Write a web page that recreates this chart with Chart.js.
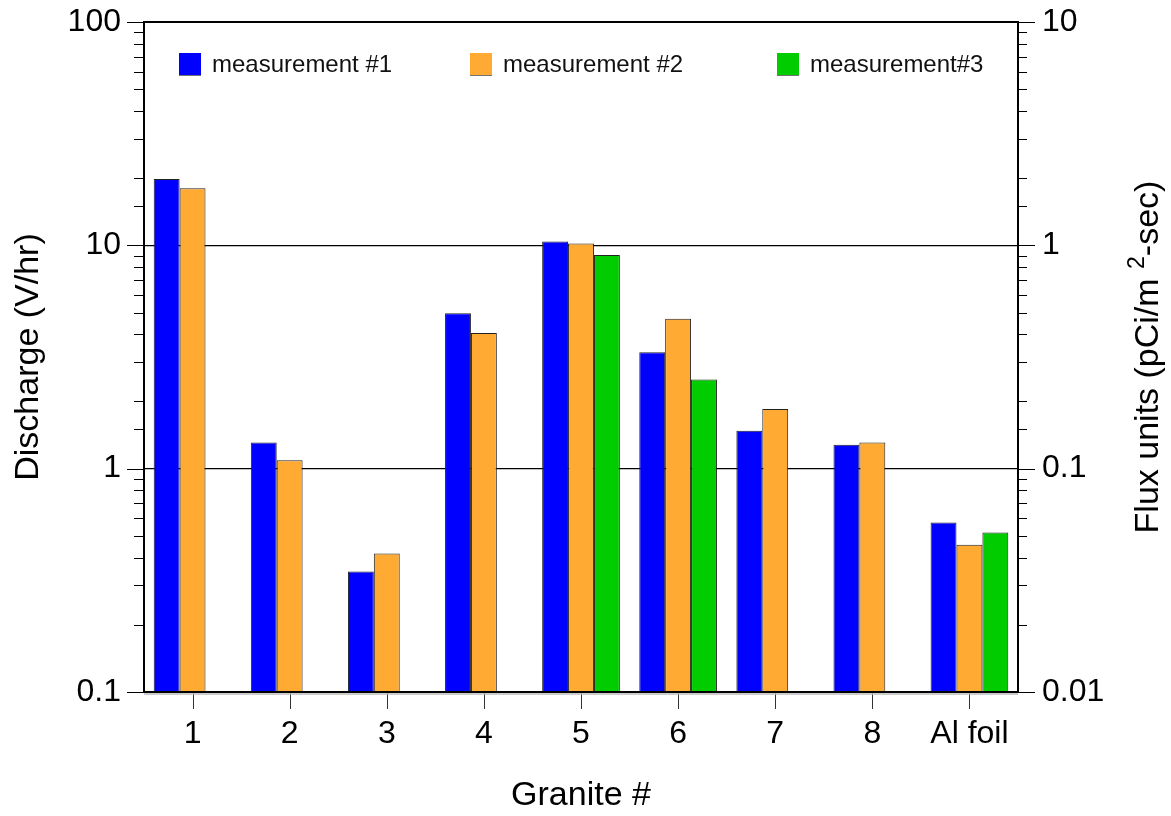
<!DOCTYPE html>
<html>
<head>
<meta charset="utf-8">
<title>Granite discharge</title>
<script src="https://cdn.jsdelivr.net/npm/chart.js@4.4.1/dist/chart.umd.min.js"></script>
<style>
  html, body { margin: 0; padding: 0; background: #fff; }
  #wrap { width: 1171px; height: 816px; }
</style>
</head>
<body>
<div id="wrap"><canvas id="c" width="1171" height="816"></canvas></div>
<script>
// Samples along the x axis
const categories = ['1', '2', '3', '4', '5', '6', '7', '8', 'Al foil'];

// Discharge rate (V/hr) for each measurement run; null = not measured
const measurement1 = [19.8, 1.31, 0.346, 4.97, 10.4, 3.32, 1.48, 1.28, 0.574];
const measurement2 = [18.0, 1.09, 0.417, 4.05, 10.2, 4.69, 1.85, 1.31, 0.456];
const measurement3 = [null, null, null, null, 9.05, 2.51, null, null, 0.518];

const seriesLabels = ['measurement #1', 'measurement #2', 'measurement#3'];
const seriesColors = ['#0000FF', '#FFAA33', '#00CC00'];

// Axis ranges (log decades)
const leftRange = [0.1, 100];
const rightRange = [0.01, 10];

const FONT = "'Liberation Sans', Arial, Helvetica, sans-serif";
const isDecade = v => Math.abs(Math.log10(v) - Math.round(Math.log10(v))) < 1e-6;

// Tick marks: long ones on decades, short ones in between, pointing outward
const tickMarks = {
  id: 'tickMarks',
  afterDraw(chart) {
    const ctx = chart.ctx;
    const area = chart.chartArea;
    ctx.save();
    ctx.strokeStyle = '#000';
    ctx.lineWidth = 1;
    const y = chart.scales.y, y2 = chart.scales.y2, x = chart.scales.x;
    y.ticks.forEach(t => {
      const p = Math.round(y.getPixelForValue(t.value)) + 0.5;
      const len = isDecade(t.value) ? 17 : 10;
      ctx.beginPath(); ctx.moveTo(area.left - len, p); ctx.lineTo(area.left, p); ctx.stroke();
    });
    y2.ticks.forEach(t => {
      const p = Math.round(y2.getPixelForValue(t.value)) + 0.5;
      const len = isDecade(t.value) ? 17 : 9;
      ctx.beginPath(); ctx.moveTo(area.right, p); ctx.lineTo(area.right + len, p); ctx.stroke();
    });
    ctx.strokeStyle = '#333';
    x.ticks.forEach((t, i) => {
      const p = Math.round(x.getPixelForTick(i)) + 0.5;
      ctx.beginPath(); ctx.moveTo(p, area.bottom); ctx.lineTo(p, area.bottom + 17); ctx.stroke();
    });

    // Plot frame
    ctx.strokeStyle = '#bbb';
    ctx.lineWidth = 1.5;
    ctx.beginPath(); ctx.moveTo(area.left, area.bottom + 2); ctx.lineTo(area.right, area.bottom + 2); ctx.stroke();
    ctx.strokeStyle = '#000';
    ctx.lineWidth = 2;
    ctx.beginPath();
    ctx.moveTo(area.left, area.top); ctx.lineTo(area.right, area.top);
    ctx.moveTo(area.left, area.bottom); ctx.lineTo(area.right, area.bottom);
    ctx.moveTo(area.left, area.top - 1); ctx.lineTo(area.left, area.bottom + 1);
    ctx.moveTo(area.right, area.top - 1); ctx.lineTo(area.right, area.bottom + 1);
    ctx.stroke();
    ctx.restore();
  }
};

// Legend inside the plot, one entry per dataset
const insideLegend = {
  id: 'insideLegend',
  afterDraw(chart) {
    const ctx = chart.ctx;
    const starts = [179, 470, 777];
    ctx.save();
    ctx.font = `24px ${FONT}`;
    ctx.textBaseline = 'middle';
    ctx.fillStyle = '#000';
    chart.data.datasets.forEach((ds, i) => {
      const bx = starts[i], by = 53;
      ctx.fillStyle = ds.backgroundColor;
      ctx.fillRect(bx, by, 22, 22);
      ctx.strokeStyle = 'rgba(0,0,0,0.55)';
      ctx.lineWidth = 1;
      ctx.beginPath(); ctx.moveTo(bx, by + 22.5); ctx.lineTo(bx + 22, by + 22.5); ctx.stroke();
      ctx.fillStyle = '#111';
      ctx.fillText(ds.label, bx + 33, by + 12);
    });
    ctx.restore();
  }
};

// Right-hand axis title with superscript, reading bottom to top
const rightTitle = {
  id: 'rightTitle',
  afterDraw(chart) {
    const ctx = chart.ctx;
    const area = chart.chartArea;
    const cx = 1146, cy = (area.top + area.bottom) / 2;
    const main = 'Flux units (pCi/m ';
    const sup = '2';
    const tail = '-sec)';
    ctx.save();
    ctx.fillStyle = '#000';
    ctx.textBaseline = 'alphabetic';
    ctx.font = `34px ${FONT}`;
    const w1 = ctx.measureText(main).width;
    const w3 = ctx.measureText(tail).width;
    ctx.font = `23px ${FONT}`;
    const w2 = ctx.measureText(sup).width;
    const total = w1 + w2 + w3;
    ctx.translate(cx, cy);
    ctx.rotate(-Math.PI / 2);
    let xo = -total / 2;
    const base = 12;
    ctx.font = `34px ${FONT}`;
    ctx.fillText(main, xo, base); xo += w1;
    ctx.font = `23px ${FONT}`;
    ctx.fillText(sup, xo, base - 14); xo += w2;
    ctx.font = `34px ${FONT}`;
    ctx.fillText(tail, xo, base);
    ctx.restore();
  }
};

const makeDataset = (label, data, color) => ({
  label,
  data,
  backgroundColor: color,
  borderColor: '#222',
  borderWidth: 1,
  borderSkipped: 'bottom',
  barPercentage: 1.0,
  categoryPercentage: 0.8,
  yAxisID: 'y'
});

// Vertical axes: fixed width, no extra room reserved for overhanging labels
const fitVertical = width => s => {
  s.width = width;
  s.paddingTop = 0;
  s.paddingBottom = 0;
};

new Chart(document.getElementById('c'), {
  type: 'bar',
  data: {
    labels: categories,
    datasets: [
      makeDataset(seriesLabels[0], measurement1, seriesColors[0]),
      makeDataset(seriesLabels[1], measurement2, seriesColors[1]),
      makeDataset(seriesLabels[2], measurement3, seriesColors[2])
    ]
  },
  options: {
    responsive: false,
    animation: false,
    layout: { padding: { top: 22, left: 0, right: 0, bottom: 0 } },
    plugins: { legend: { display: false }, tooltip: { enabled: false } },
    scales: {
      x: {
        offset: true,
        grid: { display: false, drawTicks: false },
        border: { display: false },
        ticks: { color: '#000', font: { family: FONT, size: 32 }, padding: 23, maxRotation: 0, autoSkip: false },
        title: { display: true, text: 'Granite #', color: '#000', font: { family: FONT, size: 34 }, padding: { bottom: 0 } },
        afterFit(s) { s.height = 124; s.paddingLeft = 0; s.paddingRight = 0; }
      },
      y: {
        type: 'logarithmic',
        position: 'left',
        min: leftRange[0],
        max: leftRange[1],
        grid: {
          drawTicks: false,
          color: ctx => (ctx.tick && isDecade(ctx.tick.value) && ctx.tick.value > leftRange[0] && ctx.tick.value < leftRange[1]) ? '#000' : 'rgba(0,0,0,0)',
          lineWidth: 1.3
        },
        border: { display: false },
        ticks: {
          autoSkip: false,
          color: '#000',
          font: { family: FONT, size: 32 },
          padding: 23,
          callback: v => isDecade(v) ? String(+v.toPrecision(3)) : ''
        },
        title: { display: true, text: 'Discharge (V/hr)', color: '#000', font: { family: FONT, size: 34 }, padding: { top: 8 } },
        afterFit: fitVertical(144)
      },
      y2: {
        type: 'logarithmic',
        position: 'right',
        min: rightRange[0],
        max: rightRange[1],
        grid: { display: false, drawTicks: false },
        border: { display: false },
        ticks: {
          autoSkip: false,
          color: '#000',
          font: { family: FONT, size: 32 },
          padding: 24,
          callback: v => isDecade(v) ? String(+v.toPrecision(3)) : ''
        },
        afterFit: fitVertical(153)
      }
    }
  },
  plugins: [tickMarks, insideLegend, rightTitle]
});
</script>
</body>
</html>
